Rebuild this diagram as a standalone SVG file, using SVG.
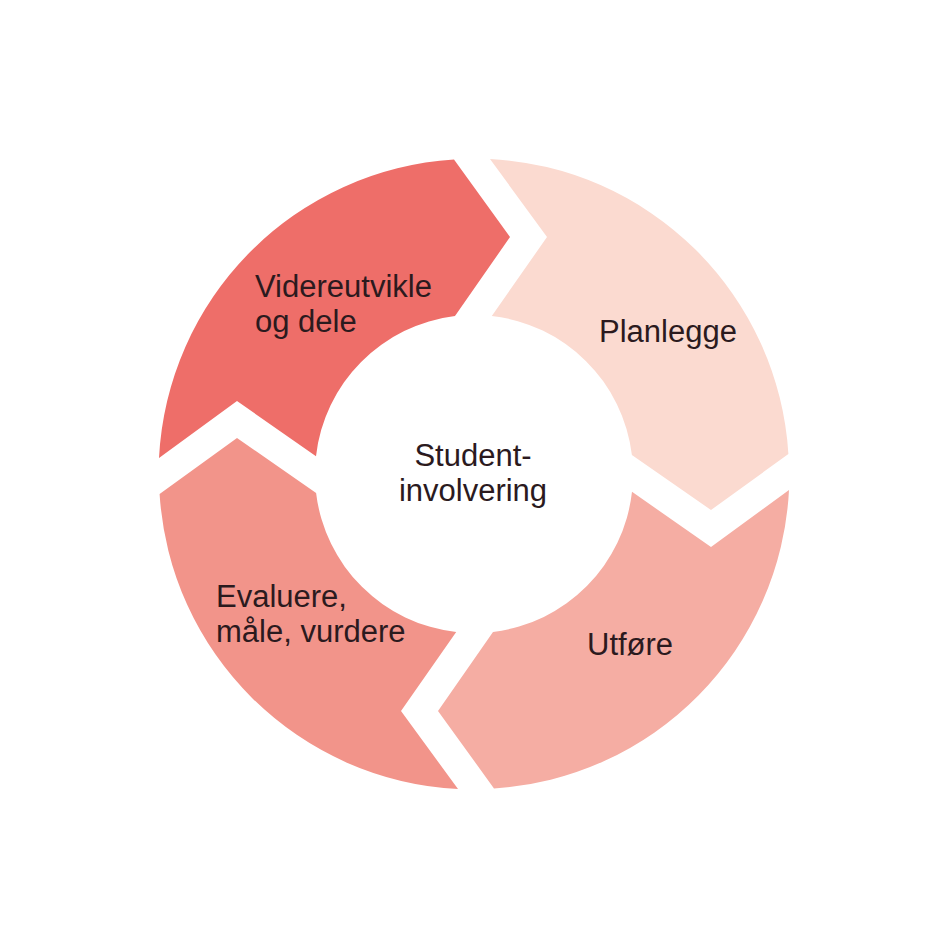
<svg xmlns="http://www.w3.org/2000/svg" width="947" height="947" viewBox="0 0 947 947">
<style>
.lbl{font-family:"Liberation Sans","Arial",sans-serif;font-size:31px;fill:#2B1A1E}
</style>
<defs>
<path id="seg" d="M -315,-16 A 315 315 0 0 1 -20,-314.4 L 36,-237 L -19,-157.9 A 159 159 0 0 0 -158,-17.8 L -237,-73 Z"/>
</defs>
<rect width="947" height="947" fill="#FFFFFF"/>
<g id="connectors"></g>
<g id="videreutvikle">
<use href="#seg" transform="translate(474,474)" fill="#EE6E69"/>
<text class="lbl" x="255" y="297">Videreutvikle<tspan x="255" dy="35">og dele</tspan></text>
</g>
<g id="planlegge">
<use href="#seg" transform="translate(474,474) rotate(90)" fill="#FBDAD0"/>
<text class="lbl" x="599" y="342">Planlegge</text>
</g>
<g id="utfore">
<use href="#seg" transform="translate(474,474) rotate(180)" fill="#F5ADA3"/>
<text class="lbl" x="587" y="655">Utføre</text>
</g>
<g id="evaluere">
<use href="#seg" transform="translate(474,474) rotate(270)" fill="#F2948A"/>
<text class="lbl" x="216" y="607">Evaluere,<tspan x="216" dy="35">måle, vurdere</tspan></text>
</g>
<g id="center">
<text class="lbl" x="473" y="466" text-anchor="middle">Student-<tspan x="473" dy="35">involvering</tspan></text>
</g>
</svg>
